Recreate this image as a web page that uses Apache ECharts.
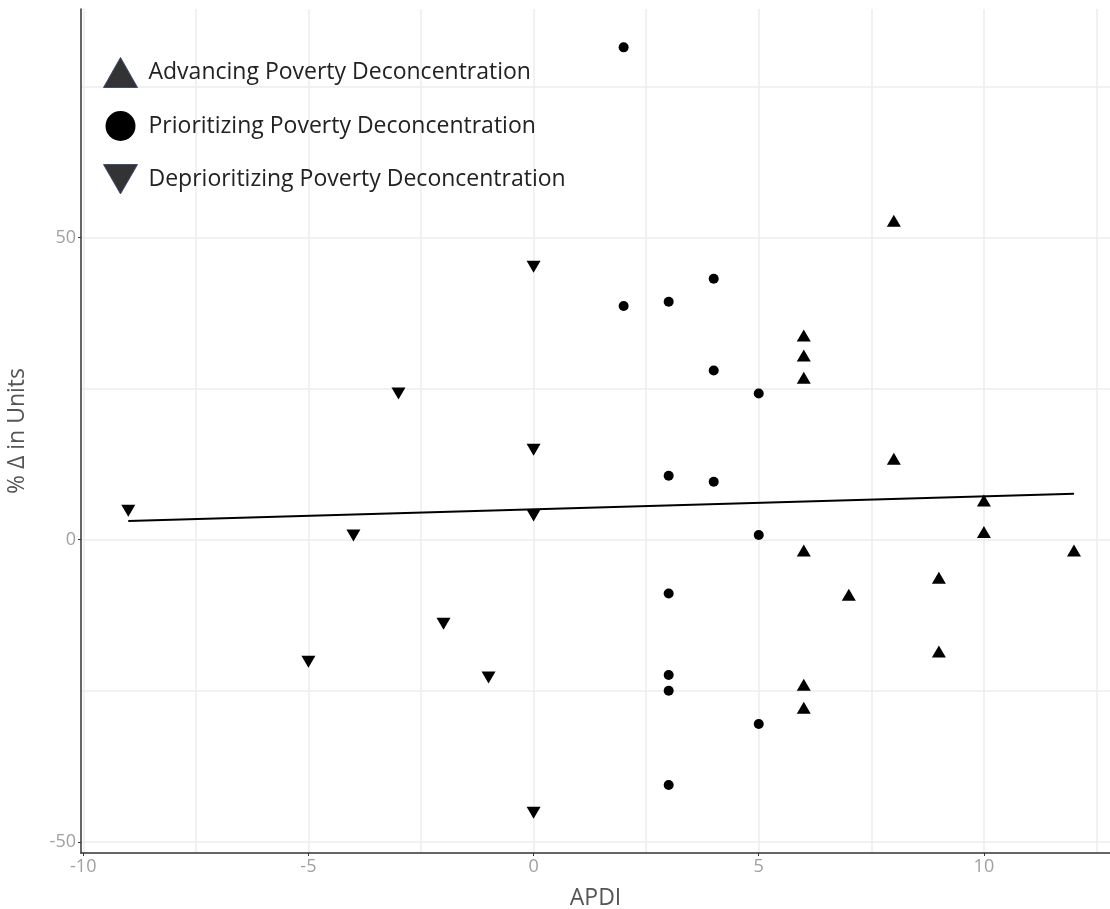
<!DOCTYPE html>
<html>
<head>
<meta charset="utf-8">
<script src="https://cdn.jsdelivr.net/npm/echarts@6/dist/echarts.min.js"></script>
<style>
  html, body { margin: 0; padding: 0; background: #fff; }
  #chart { width: 1110px; height: 909px; }
</style>
</head>
<body>
<div id="chart"></div>
<script>
// series names
const seriesNames = [
  'Advancing Poverty Deconcentration',
  'Prioritizing Poverty Deconcentration',
  'Deprioritizing Poverty Deconcentration'
]

// APDI (x) and % change in units (y)
const advancingX = [8, 6, 6, 6, 8, 10, 10, 6, 12, 9, 7, 9, 6, 6]
const advancingY = [52.8, 33.8, 30.5, 26.8, 13.4, 6.5, 1.3, -1.8, -1.8, -6.3, -9.1, -18.5, -24, -27.8]

const prioritizingX = [2, 4, 3, 2, 4, 5, 3, 4, 5, 3, 3, 3, 5, 3]
const prioritizingY = [81.5, 43.2, 39.4, 38.7, 28, 24.2, 10.6, 9.6, 0.8, -8.9, -22.4, -25, -30.5, -40.6]

const deprioritizingX = [0, -3, 0, -9, 0, -4, -2, -5, -1, 0]
const deprioritizingY = [45.2, 24.2, 14.9, 4.8, 4, 0.7, -13.9, -20.2, -22.8, -45.2]

// fitted line end points
const fitX = [-9, 12]
const fitY = [3.1, 7.6]

// ticks and grid lines
const xTicks = [-10, -5, 0, 5, 10]
const xGrid = [-10, -7.5, -5, -2.5, 0, 2.5, 5, 7.5, 10, 12.5]
const yTicks = [-50, 0, 50]
const yGrid = [-50, -25, 0, 25, 50, 75]

const downTriangle = 'path://M0,0 L20,0 L10,17.3 Z'
const gridColor = '#ececec'
const labelColor = '#a0a0a0'
const font = '"Open Sans", "Noto Sans", sans-serif'

const pairs = (xs, ys) => xs.map((x, i) => [x, ys[i]])

const chart = echarts.init(document.getElementById('chart'))

const xRange = { min: -10.05, max: 12.8 }
const yRange = { min: -51.85, max: 87.85 }

// main axis: line, ticks, labels
const mainAxis = (range, ticks, extra) => ({
  type: 'value',
  ...range,
  nameLocation: 'middle',
  nameTextStyle: { fontFamily: font, fontSize: 23, color: '#555' },
  axisLine: { show: true, onZero: false, lineStyle: { color: '#333', width: 1.5 } },
  axisTick: { show: true, length: 3, customValues: ticks, lineStyle: { color: '#333' } },
  axisLabel: { fontFamily: font, fontSize: 18, color: labelColor, margin: 5, customValues: ticks },
  splitLine: { show: false },
  ...extra
})

// helper axis: grid lines only
const gridAxis = (range, lines, position) => ({
  type: 'value',
  ...range,
  position,
  axisLine: { show: false },
  axisTick: { show: false, customValues: lines },
  axisLabel: { show: false, customValues: lines },
  splitLine: { show: true, lineStyle: { color: gridColor, width: 1.5 } }
})

const option = {
  animation: false,
  backgroundColor: '#fff',
  grid: { left: 81, right: 0, top: 9, bottom: 56, containLabel: false, outerBoundsMode: 'none' },
  legend: {
    left: 98,
    top: 52,
    orient: 'vertical',
    itemWidth: 34,
    itemHeight: 30,
    itemGap: 23,
    textStyle: { fontFamily: font, fontSize: 23, color: '#222', padding: [0, 0, 0, 6] },
    data: [
      { name: seriesNames[0], icon: 'triangle', itemStyle: { color: '#333', opacity: 1, borderColor: '#3e4d74', borderWidth: 1 } },
      { name: seriesNames[1], icon: 'circle', itemStyle: { color: '#000', opacity: 1, borderWidth: 0 } },
      { name: seriesNames[2], icon: downTriangle, itemStyle: { color: '#333', opacity: 1, borderColor: '#3e4d74', borderWidth: 1 } }
    ]
  },
  xAxis: [
    mainAxis(xRange, xTicks, { name: 'APDI', nameGap: 34 }),
    gridAxis(xRange, xGrid, 'bottom')
  ],
  yAxis: [
    mainAxis(yRange, yTicks, { name: '% \u0394 in Units', nameGap: 52 }),
    gridAxis(yRange, yGrid, 'left')
  ],
  series: [
    {
      name: seriesNames[0],
      type: 'scatter',
      symbol: 'triangle',
      symbolSize: [14, 12],
      itemStyle: { color: '#000', opacity: 1 },
      data: pairs(advancingX, advancingY),
      z: 3
    },
    {
      name: seriesNames[1],
      type: 'scatter',
      symbol: 'circle',
      symbolSize: 10,
      itemStyle: { color: '#000', opacity: 1 },
      data: pairs(prioritizingX, prioritizingY),
      z: 3
    },
    {
      name: seriesNames[2],
      type: 'scatter',
      symbol: downTriangle,
      symbolSize: [14, 12],
      itemStyle: { color: '#000', opacity: 1 },
      data: pairs(deprioritizingX, deprioritizingY),
      z: 3
    },
    {
      name: 'fit',
      type: 'line',
      symbol: 'none',
      lineStyle: { color: '#000', width: 2 },
      data: pairs(fitX, fitY),
      z: 2
    }
  ]
}

chart.setOption(option)
</script>
</body>
</html>
